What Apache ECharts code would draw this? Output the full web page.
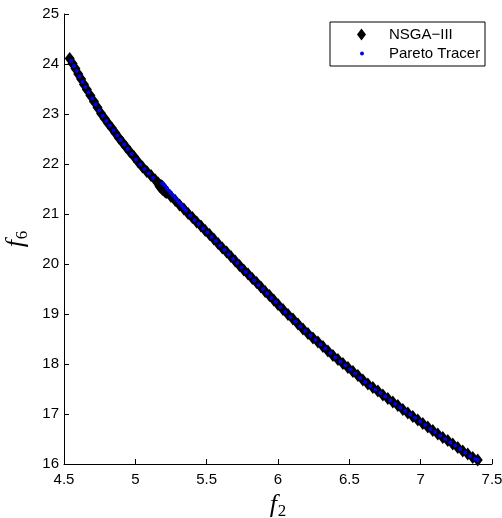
<!DOCTYPE html>
<html>
<head>
<meta charset="utf-8">
<script src="https://cdn.jsdelivr.net/npm/echarts@6/dist/echarts.min.js"></script>
<style>
  html, body { margin: 0; padding: 0; background: #fff; }
  #chart { width: 502px; height: 518px; }
</style>
</head>
<body>
<div id="chart"></div>
<script>
// ---- data (f2 on x, f6 on y) ----
const NSGA_NAME = 'NSGA\u2212III';
const PT_NAME = 'Pareto Tracer';

const NSGA_F2 = [4.54, 4.56, 4.58, 4.60, 4.62, 4.64, 4.66, 4.685, 4.71, 4.735, 4.76, 4.785, 4.81, 4.835, 4.86, 4.885,
  4.91, 4.935, 4.96, 4.99, 5.02, 5.05, 5.08, 5.11, 5.14, 5.16,
  5.17, 5.17, 5.175, 5.18, 5.18, 5.185, 5.19, 5.19, 5.19, 5.20, 5.20, 5.21, 5.21, 5.22,
  5.25, 5.28, 5.31, 5.34, 5.37, 5.40, 5.43, 5.46, 5.49, 5.52, 5.55,
  5.58, 5.61, 5.64, 5.67, 5.70, 5.73, 5.76, 5.79, 5.82, 5.85, 5.88, 5.91, 5.94, 5.97, 6.00,
  6.035, 6.07, 6.105, 6.14, 6.175, 6.21, 6.245, 6.28, 6.315, 6.35, 6.385, 6.42, 6.455, 6.49, 6.525, 6.56, 6.595, 6.63,
  6.665, 6.70, 6.735, 6.77, 6.805, 6.84, 6.875, 6.91, 6.945, 6.98, 7.015, 7.05, 7.085,
  7.12, 7.155, 7.19, 7.225, 7.26, 7.295, 7.33, 7.365, 7.40];
const NSGA_F6 = [24.11, 24.01, 23.91, 23.80, 23.70, 23.59, 23.49, 23.37, 23.25, 23.13, 23.01, 22.91, 22.81, 22.72, 22.62, 22.52,
  22.43, 22.34, 22.25, 22.15, 22.04, 21.94, 21.85, 21.77, 21.68, 21.62,
  21.58, 21.55, 21.56, 21.57, 21.53, 21.54, 21.55, 21.51, 21.49, 21.52, 21.48, 21.47, 21.44, 21.43,
  21.35, 21.27, 21.18, 21.10, 21.01, 20.93, 20.84, 20.76, 20.67, 20.59, 20.50,
  20.41, 20.32, 20.24, 20.15, 20.06, 19.97, 19.88, 19.80, 19.71, 19.63, 19.54, 19.45, 19.37, 19.28, 19.19,
  19.09, 18.99, 18.90, 18.80, 18.70, 18.61, 18.52, 18.44, 18.35, 18.26, 18.17, 18.09, 18.01, 17.93, 17.85, 17.77, 17.68, 17.60,
  17.53, 17.46, 17.38, 17.31, 17.24, 17.17, 17.09, 17.02, 16.95, 16.88, 16.81, 16.74, 16.67,
  16.60, 16.53, 16.47, 16.40, 16.33, 16.26, 16.20, 16.13, 16.08];

const PT_F2 = [4.55, 4.57, 4.59, 4.61, 4.63, 4.65, 4.672, 4.697, 4.722, 4.747, 4.772, 4.797, 4.822, 4.847, 4.872, 4.897,
  4.922, 4.947, 4.975, 5.005, 5.035, 5.065, 5.095, 5.125,
  5.19, 5.205, 5.22, 5.235, 5.25, 5.265, 5.28, 5.295, 5.31, 5.325, 5.34, 5.355,
  5.385, 5.415, 5.445, 5.475, 5.505, 5.535, 5.565, 5.595, 5.625, 5.655, 5.685, 5.715, 5.745, 5.775, 5.805, 5.835,
  5.865, 5.895, 5.925, 5.955, 5.985, 6.018,
  6.052, 6.088, 6.122, 6.158, 6.192, 6.228, 6.262, 6.298, 6.332, 6.368, 6.402, 6.438, 6.472, 6.508, 6.542, 6.578, 6.612,
  6.648, 6.682, 6.718, 6.752, 6.788, 6.822, 6.858, 6.892, 6.928, 6.962, 6.998, 7.032, 7.068, 7.102,
  7.138, 7.172, 7.208, 7.242, 7.278, 7.312, 7.348, 7.382, 7.40];
const PT_F6 = [24.06, 23.96, 23.86, 23.75, 23.64, 23.54, 23.43, 23.31, 23.19, 23.07, 22.96, 22.86, 22.77, 22.67, 22.57, 22.48,
  22.39, 22.30, 22.20, 22.09, 21.99, 21.90, 21.81, 21.72,
  21.61, 21.57, 21.52, 21.47, 21.42, 21.37, 21.32, 21.27, 21.22, 21.17, 21.12, 21.07,
  20.97, 20.88, 20.80, 20.71, 20.63, 20.54, 20.46, 20.37, 20.28, 20.19, 20.10, 20.02, 19.93, 19.84, 19.76, 19.67,
  19.58, 19.50, 19.41, 19.32, 19.24, 19.14,
  19.04, 18.94, 18.85, 18.75, 18.66, 18.57, 18.48, 18.39, 18.31, 18.22, 18.13, 18.05, 17.97, 17.89, 17.81, 17.72, 17.64,
  17.56, 17.49, 17.42, 17.35, 17.27, 17.20, 17.13, 17.06, 16.99, 16.92, 16.85, 16.78, 16.70, 16.64,
  16.57, 16.50, 16.43, 16.37, 16.30, 16.23, 16.16, 16.10, 16.08];

const X_RANGE = [4.5, 7.5, 0.5];   // min, max, step
const Y_RANGE = [16, 25, 1];

// ---- chart ----
const SANS = '"Liberation Sans", Arial, Helvetica, sans-serif';
const SERIF = '"Liberation Serif", "Times New Roman", serif';

const zip = (xs, ys) => xs.map((x, i) => [x, ys[i]]);

const nameRich = {
  f: { fontFamily: SERIF, fontStyle: 'italic', fontSize: 26, color: '#000', lineHeight: 30 },
  s: { fontFamily: SERIF, fontSize: 17, color: '#000', lineHeight: 17, verticalAlign: 'bottom', padding: [0, 0, 0, 1] }
};

const axisCommon = {
  type: 'value',
  nameLocation: 'middle',
  nameTextStyle: { rich: nameRich },
  axisLine: { show: true, onZero: false, lineStyle: { color: '#000', width: 1 } },
  axisTick: { show: true, inside: true, length: 5, lineStyle: { color: '#000' } },
  splitLine: { show: false },
  axisLabel: { color: '#000', fontSize: 15, fontFamily: SANS }
};

const legendText = pad => ({
  fontFamily: SANS, fontSize: 15, color: '#000', lineHeight: 14,
  width: 96, padding: [0, 0, 0, pad], backgroundColor: 'rgba(255,255,255,0)'
});

const chart = echarts.init(document.getElementById('chart'), null, { renderer: 'canvas' });
chart.setOption({
  animation: false,
  backgroundColor: '#fff',
  grid: { left: 64, right: 10, top: 14, bottom: 54, containLabel: false, outerBoundsMode: 'none' },
  xAxis: Object.assign({}, axisCommon, {
    min: X_RANGE[0], max: X_RANGE[1], interval: X_RANGE[2],
    name: '{f|f}{s|2}', nameGap: 24,
    axisLabel: Object.assign({}, axisCommon.axisLabel, { margin: 8 })
  }),
  yAxis: Object.assign({}, axisCommon, {
    min: Y_RANGE[0], max: Y_RANGE[1], interval: Y_RANGE[2],
    name: '{f|f}{s|6}', nameGap: 30,
    axisLabel: Object.assign({}, axisCommon.axisLabel, { margin: 5 })
  }),
  legend: [
    {
      data: [NSGA_NAME], left: 330, top: 22, orient: 'vertical',
      padding: [5, 0, 24, 27], itemGap: 0, itemWidth: 9, itemHeight: 12,
      backgroundColor: '#fff', borderColor: '#000', borderWidth: 1, borderRadius: 0,
      selectedMode: false, textStyle: legendText(18),
      itemStyle: { opacity: 1 }
    },
    {
      data: [PT_NAME], left: 360, top: 46, orient: 'vertical',
      padding: 0, itemGap: 0, itemWidth: 4, itemHeight: 4,
      selectedMode: false, textStyle: legendText(20),
      itemStyle: { opacity: 1 }
    }
  ],
  series: [
    {
      name: NSGA_NAME, type: 'scatter', data: zip(NSGA_F2, NSGA_F6),
      symbol: 'diamond', symbolSize: [10, 13],
      itemStyle: { color: '#000', opacity: 1 }, silent: true
    },
    {
      name: PT_NAME, type: 'scatter', data: zip(PT_F2, PT_F6),
      symbol: 'circle', symbolSize: 4,
      itemStyle: { color: '#0000ff', opacity: 1 }, silent: true
    }
  ]
});
</script>
</body>
</html>
